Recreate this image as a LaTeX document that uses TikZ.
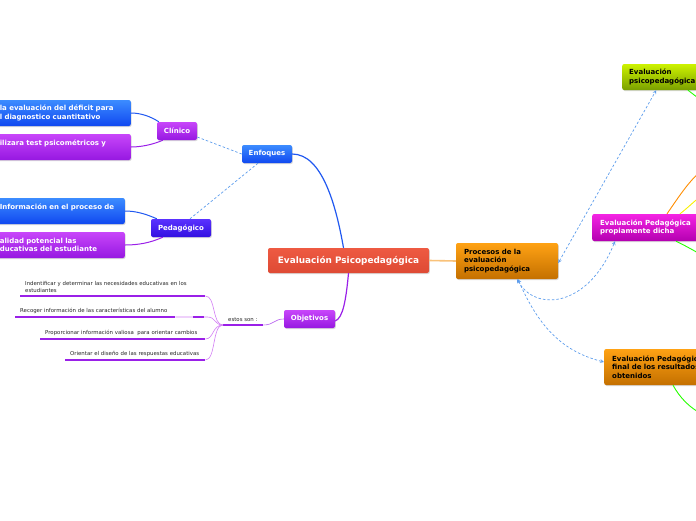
\documentclass[tikz,border=0pt]{standalone}
\usepackage{fontspec}
\setmainfont{DejaVu Sans}
\usetikzlibrary{shadows}
\definecolor{lineBlue}{HTML}{2058F0}
\definecolor{linePurple}{HTML}{9A20E8}
\definecolor{lineLilac}{HTML}{D27CF4}
\definecolor{linkBlue}{HTML}{5C9CEC}
\definecolor{lineOrange}{HTML}{F9C27A}
\tikzset{
    topic/.style={rounded corners=2pt, inner sep=0pt, minimum height=18pt,
        text=white, font=\bfseries\fontsize{7}{8.5}\selectfont,
        drop shadow={opacity=0.3, shadow xshift=0.8pt, shadow yshift=-1pt}},
    blueTopic/.style={topic, top color={rgb,255:red,60;green,140;blue,255}, bottom color={rgb,255:red,16;green,72;blue,240}},
    purpleTopic/.style={topic, top color={rgb,255:red,200;green,70;blue,250}, bottom color={rgb,255:red,150;green,24;blue,225}},
    indigoTopic/.style={topic, top color={rgb,255:red,90;green,50;blue,255}, bottom color={rgb,255:red,50;green,16;blue,225}},
    orangeTopic/.style={topic, text=black, top color={rgb,255:red,255;green,162;blue,20}, bottom color={rgb,255:red,196;green,112;blue,0}},
    limeTopic/.style={topic, text=black, top color={rgb,255:red,205;green,242;blue,0}, bottom color={rgb,255:red,122;green,160;blue,0}},
    magentaTopic/.style={topic, top color={rgb,255:red,244;green,36;blue,228}, bottom color={rgb,255:red,180;green,0;blue,176}},
    leftBox/.style={anchor=east, minimum height=26pt, inner xsep=10pt, align=left},
    rightBox/.style={anchor=west, align=left},
    objItem/.style={anchor=south west, inner xsep=5pt, inner ysep=3pt, align=left,
        font=\fontsize{5.4}{7}\selectfont, text=black!85},
    underline/.style={linePurple, line width=2.4pt},
    thinLink/.style={lineLilac, line width=0.6pt},
    dashLink/.style={linkBlue, dashed, line width=0.7pt, dash pattern=on 2.5pt off 2pt}
}

\begin{document}
\begin{tikzpicture}[x=1pt, y=-1pt]
    \useasboundingbox (0,0) rectangle (696,520);
    % centre
    \node[topic, top color={rgb,255:red,238;green,90;blue,66}, bottom color={rgb,255:red,222;green,74;blue,52},
        minimum width=161pt, minimum height=25pt, font=\bfseries\fontsize{8.9}{10}\selectfont] (central) at (348.5,260.5) {Evaluación Psicopedagógica};
    \node[orangeTopic, minimum height=36pt, text width=86pt, inner xsep=8pt, align=left] (procesos) at (507,261) {Procesos de la\\evaluación\\psicopedagógica};

    % left side
    \node[blueTopic, minimum width=50pt] (enfoques) at (267,154) {Enfoques};
    \node[purpleTopic, minimum width=40pt] (clinico) at (177,131) {Clínico};
    \node[indigoTopic, minimum width=60pt] (pedagogico) at (181,228) {Pedagógico};
    \node[purpleTopic, minimum width=51pt] (objetivos) at (309.5,319) {Objetivos};

    \node[blueTopic, leftBox, text width=121pt] (deficit) at (131,113) {la evaluación del déficit para\\l diagnostico cuantitativo};
    \node[purpleTopic, leftBox, text width=121pt] (tests) at (131,147) {ilizara test psicométricos y\\\mbox{}};
    \node[blueTopic, leftBox, text width=115pt] (informacion) at (125,211) {Información en el proceso de\\\mbox{}};
    \node[purpleTopic, leftBox, text width=115pt] (potencial) at (125,245) {alidad potencial las\\ducativas del estudiante};

    % right side
    \node[limeTopic, rightBox, minimum height=26pt, text width=80pt, inner xsep=7pt] (evalPsico) at (622,77) {Evaluación\\psicopedagógica};
    \node[magentaTopic, rightBox, minimum height=27pt, text width=100pt, inner xsep=8pt] (propiamente) at (592,227.5) {Evaluación Pedagógica\\propiamente dicha};
    \node[orangeTopic, rightBox, minimum height=36pt, text width=100pt, inner xsep=8pt] (final) at (604,367) {Evaluación Pedagógica\\final de los resultados\\obtenidos};

    % objetivos
    \node[objItem, text width=175pt] (obj1) at (20,296) {Indentificar y determinar las necesidades educativas en los\\estudiantes};
    \node[objItem, text width=150pt] (obj2) at (15,317) {Recoger información de las características del alumno};
    \node[objItem, text width=155pt] (obj3) at (40,339) {Proporcionar información valiosa~ para orientar cambios};
    \node[objItem, text width=130pt] (obj4) at (65,360) {Orientar el diseño de las respuestas educativas};
    \node[objItem, text width=30pt] (estos) at (223,325) {estos son :};

    \foreach \o in {obj1,obj2,obj3,obj4,estos}
        \draw[underline] (\o.south west) -- (\o.south east);
    \draw[thinLink] (obj1.south east) .. controls (216,296) and (212,325) .. (estos.south west);
    \draw[thinLink] (obj2.south east) -- ++(32,0) .. controls (216,317) and (214,325) .. (estos.south west);
    \draw[underline] ([xshift=18pt]obj2.south east) -- ++(11,0);
    \draw[thinLink] (obj3.south east) .. controls (214,339) and (212,325) .. (estos.south west);
    \draw[thinLink] (obj4.south east) .. controls (216,360) and (212,325) .. (estos.south west);
    \draw[thinLink, linePurple!70] (estos.south east) .. controls (274,325) and (274,319) .. (objetivos.west);

    % connectors
    \draw[lineOrange, line width=1.6pt] (central.east) -- (procesos.west);
    \draw[lineBlue, line width=1.2pt] ([xshift=-5pt]central.north) .. controls (336,205) and (322,154) .. (enfoques.east);
    \draw[linePurple, line width=1.2pt] (central.south) .. controls (346,300) and (343,318) .. ([yshift=-2pt]objetivos.east);
    \draw[dashLink] (enfoques.west) -- ([yshift=-6pt]clinico.east);
    \draw[dashLink] ([xshift=-9pt]enfoques.south) -- ([xshift=9pt]pedagogico.north);
    \draw[lineBlue, line width=1pt] ([xshift=2pt]clinico.north west) .. controls (150,116) and (140,113) .. (deficit.east);
    \draw[linePurple, line width=1pt] ([xshift=6pt]clinico.south west) .. controls (152,145) and (140,147) .. (tests.east);
    \draw[lineBlue, line width=1pt] ([xshift=6pt]pedagogico.north west) .. controls (146,214) and (136,211) .. (informacion.east);
    \draw[linePurple, line width=1pt] ([xshift=12pt]pedagogico.south west) .. controls (150,243) and (138,245) .. (potencial.east);

    \draw[dashLink, <->, >=stealth] ([yshift=-2pt]procesos.east) -- ([xshift=-13pt]evalPsico.south);
    \draw[dashLink, <->, >=stealth] ([xshift=10pt]procesos.south) .. controls (535,312) and (588,308) .. ([xshift=23pt]propiamente.south west);
    \draw[dashLink, <->, >=stealth] ([xshift=11pt]procesos.south) .. controls (540,330) and (565,352) .. ([yshift=5pt]final.west);

    % branches leaving the page
    \coordinate (offA) at (702,101);
    \coordinate (offB) at (702,170);
    \coordinate (offC) at (702,196);
    \coordinate (offD) at (702,255);
    \coordinate (offE) at (702,414);
    \draw[green!80!lime, line width=0.9pt] ([xshift=66pt]evalPsico.south west) -- (offA);
    \draw[orange!90!yellow, line width=0.9pt] ([xshift=75pt]propiamente.north west) .. controls (678,198) and (688,182) .. (offB);
    \draw[yellow!90!lime, line width=0.9pt] ([xshift=88pt]propiamente.north west) .. controls (690,206) and (695,200) .. (offC);
    \draw[green!80!lime, line width=0.9pt] ([xshift=84pt]propiamente.south west) .. controls (690,248) and (696,252) .. (offD);
    \draw[green!80!lime, line width=0.9pt] ([xshift=69pt]final.south west) .. controls (680,398) and (690,408) .. (offE);
\end{tikzpicture}
\end{document}
